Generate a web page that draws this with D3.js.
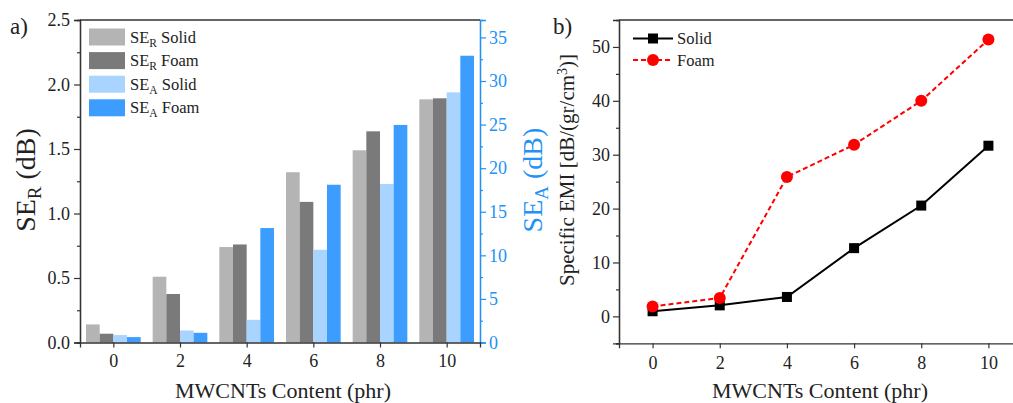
<!DOCTYPE html>
<html>
<head>
<meta charset="utf-8">
<script src="https://cdn.jsdelivr.net/npm/d3@7"></script>
<style>
  body { margin: 0; background: #fff; }
  svg { display: block; font-family: "Liberation Serif", "Times New Roman", serif; }
</style>
</head>
<body>
<svg id="svg1" width="1013" height="403"></svg>
<script>
// data
var content = [0, 2, 4, 6, 8, 10];
var seRSolid = [0.14, 0.51, 0.74, 1.32, 1.49, 1.885];
var seRFoam = [0.068, 0.376, 0.76, 1.09, 1.637, 1.893];
var seASolid = [0.85, 1.38, 2.6, 10.64, 18.18, 28.7];
var seAFoam = [0.62, 1.11, 13.13, 18.1, 24.96, 32.9];
var emiSolid = [0.95, 2.04, 3.6, 12.66, 20.56, 31.67];
var emiFoam = [1.85, 3.4, 25.87, 31.85, 40.0, 51.37];
var leftTicks = [0, 0.5, 1.0, 1.5, 2.0, 2.5];
var rightTicks = [0, 5, 10, 15, 20, 25, 30, 35];
var emiTicks = [0, 10, 20, 30, 40, 50];

var grayL = "#b4b4b4", grayD = "#7a7a7a", blueL = "#a8d4ff", blueD = "#3d9dff";
var axisBlue = "#2292f5";

var svg = d3.select("#svg1");

// ---------- panel a ----------
var gA = svg.append("g");
var x = d3.scaleLinear().domain([-1, 11]).range([80, 480]);
var yL = d3.scaleLinear().domain([0, 2.5]).range([342.5, 20]);
var yR = d3.scaleLinear().domain([0, 37]).range([342.5, 20]);

var series = [
  {name: "R", label: " Solid", vals: seRSolid, color: grayL, scale: yL},
  {name: "R", label: " Foam", vals: seRFoam, color: grayD, scale: yL},
  {name: "A", label: " Solid", vals: seASolid, color: blueL, scale: yR},
  {name: "A", label: " Foam", vals: seAFoam, color: blueD, scale: yR}
];
var bw = (x(1) - x(0)) * 0.41;

series.forEach(function(s, i) {
  gA.append("g").selectAll("rect").data(s.vals).enter().append("rect")
    .attr("x", function(d, j) { return x(content[j]) - 2 * bw + i * bw; })
    .attr("width", bw)
    .attr("y", function(d) { return s.scale(d); })
    .attr("height", function(d) { return s.scale(0) - s.scale(d); })
    .attr("fill", s.color);
});

// axes
gA.append("g").attr("transform", "translate(80,0)")
  .call(d3.axisLeft(yL).tickValues(leftTicks).tickFormat(d3.format(".1f")).tickSize(6).tickPadding(4));
gA.append("g").attr("transform", "translate(80,0)")
  .call(d3.axisLeft(yL).tickValues(d3.range(0.25, 2.5, 0.5)).tickFormat("").tickSize(3));
var axR = gA.append("g").attr("class", "blue").attr("transform", "translate(480,0)")
  .call(d3.axisRight(yR).tickValues(rightTicks).tickSize(6).tickPadding(3));
gA.append("g").attr("class", "blue").attr("transform", "translate(480,0)")
  .call(d3.axisRight(yR).tickValues(d3.range(2.5, 37, 5)).tickFormat("").tickSize(3));
gA.append("g").attr("transform", "translate(0,342.5)")
  .call(d3.axisBottom(x).tickValues(content).tickSize(5).tickPadding(7));
gA.append("line").attr("x1", 80).attr("x2", 480).attr("y1", 20).attr("y2", 20)
  .attr("stroke", "#333").attr("stroke-width", 1.3);

gA.selectAll(".domain").attr("stroke", "#333").attr("stroke-width", 1.3);
gA.selectAll(".tick line").attr("stroke", "#333").attr("stroke-width", 1.2);
gA.selectAll(".tick text").attr("font-size", 18).attr("font-family", "Liberation Serif").attr("fill", "#222");
axR.selectAll(".tick text").attr("fill", axisBlue);
gA.selectAll("g.blue").selectAll(".domain, .tick line").attr("stroke", axisBlue);

// legend a
series.forEach(function(s, i) {
  var ly = 28.5 + i * 23.6;
  gA.append("rect").attr("x", 89).attr("y", ly).attr("width", 36).attr("height", 17).attr("fill", s.color);
  var t = gA.append("text").attr("x", 130).attr("y", ly + 14).attr("font-size", 16.5).attr("fill", "#222");
  t.append("tspan").text("SE");
  t.append("tspan").attr("font-size", 11.5).attr("dy", 4).text(s.name);
  t.append("tspan").attr("dy", -4).text(s.label);
});

// titles a
var tl = gA.append("text").attr("transform", "translate(35,180) rotate(-90)")
  .attr("text-anchor", "middle").attr("font-size", 28).attr("fill", "#222");
tl.append("tspan").text("SE");
tl.append("tspan").attr("font-size", 19).attr("dy", 6).text("R");
tl.append("tspan").attr("dy", -6).text(" (dB)");
var tr = gA.append("text").attr("transform", "translate(542,180) rotate(-90)")
  .attr("text-anchor", "middle").attr("font-size", 28).attr("fill", axisBlue);
tr.append("tspan").text("SE");
tr.append("tspan").attr("font-size", 19).attr("dy", 6).text("A");
tr.append("tspan").attr("dy", -6).text(" (dB)");
gA.append("text").attr("x", 283).attr("y", 398).attr("text-anchor", "middle")
  .attr("font-size", 22).attr("fill", "#222").text("MWCNTs Content (phr)");
gA.append("text").attr("x", 10).attr("y", 34).attr("font-size", 23).attr("fill", "#222").text("a)");

// ---------- panel b ----------
var gB = svg.append("g");
var x2 = d3.scaleLinear().domain([-1, 11]).range([619, 1022]);
var y2 = d3.scaleLinear().domain([-5, 55]).range([343.3, 20]);

gB.append("g").attr("transform", "translate(619,0)")
  .call(d3.axisLeft(y2).tickValues(emiTicks).tickSize(6).tickPadding(3));
gB.append("g").attr("transform", "translate(619,0)")
  .call(d3.axisLeft(y2).tickValues(d3.range(-5, 55, 10)).tickFormat("").tickSize(3));
gB.append("g").attr("transform", "translate(0,343.3)")
  .call(d3.axisBottom(x2).tickValues(content).tickSize(5).tickPadding(8));
gB.append("line").attr("x1", 619).attr("x2", 1013).attr("y1", 20).attr("y2", 20)
  .attr("stroke", "#333").attr("stroke-width", 1.3);
gB.selectAll(".domain").attr("stroke", "#333").attr("stroke-width", 1.3);
gB.selectAll(".tick line").attr("stroke", "#333").attr("stroke-width", 1.2);
gB.selectAll(".tick text").attr("font-size", 18).attr("font-family", "Liberation Serif").attr("fill", "#222");

var line = d3.line().x(function(d, i) { return x2(content[i]); }).y(function(d) { return y2(d); });
gB.append("path").datum(emiSolid).attr("d", line).attr("fill", "none")
  .attr("stroke", "#000").attr("stroke-width", 2);
gB.append("path").datum(emiFoam).attr("d", line).attr("fill", "none")
  .attr("stroke", "#ff0000").attr("stroke-width", 2).attr("stroke-dasharray", "5,3");
gB.selectAll(".sq").data(emiSolid).enter().append("rect")
  .attr("x", function(d, i) { return x2(content[i]) - 5; })
  .attr("y", function(d) { return y2(d) - 5; })
  .attr("width", 10).attr("height", 10).attr("fill", "#000");
gB.selectAll(".ci").data(emiFoam).enter().append("circle")
  .attr("cx", function(d, i) { return x2(content[i]); })
  .attr("cy", function(d) { return y2(d); })
  .attr("r", 6).attr("fill", "#ff0000");

// legend b
gB.append("line").attr("x1", 633).attr("x2", 673).attr("y1", 38.5).attr("y2", 38.5)
  .attr("stroke", "#000").attr("stroke-width", 2);
gB.append("rect").attr("x", 648).attr("y", 33.5).attr("width", 10).attr("height", 10).attr("fill", "#000");
gB.append("text").attr("x", 677).attr("y", 44).attr("font-size", 16.5).attr("fill", "#222").text("Solid");
gB.append("line").attr("x1", 633).attr("x2", 673).attr("y1", 60).attr("y2", 60)
  .attr("stroke", "#ff0000").attr("stroke-width", 2).attr("stroke-dasharray", "5,3");
gB.append("circle").attr("cx", 653).attr("cy", 60).attr("r", 6).attr("fill", "#ff0000");
gB.append("text").attr("x", 677).attr("y", 66).attr("font-size", 16.5).attr("fill", "#222").text("Foam");

// titles b
var tb = gB.append("text").attr("transform", "translate(574,170) rotate(-90)")
  .attr("text-anchor", "middle").attr("font-size", 21).attr("fill", "#222");
tb.append("tspan").text("Specific EMI [dB/(gr/cm");
tb.append("tspan").attr("font-size", 14).attr("dy", -7).text("3");
tb.append("tspan").attr("dy", 7).text(")]");
gB.append("text").attr("x", 820).attr("y", 398).attr("text-anchor", "middle")
  .attr("font-size", 22).attr("fill", "#222").text("MWCNTs Content (phr)");
gB.append("text").attr("x", 553).attr("y", 34).attr("font-size", 23).attr("fill", "#222").text("b)");
</script>
</body>
</html>
